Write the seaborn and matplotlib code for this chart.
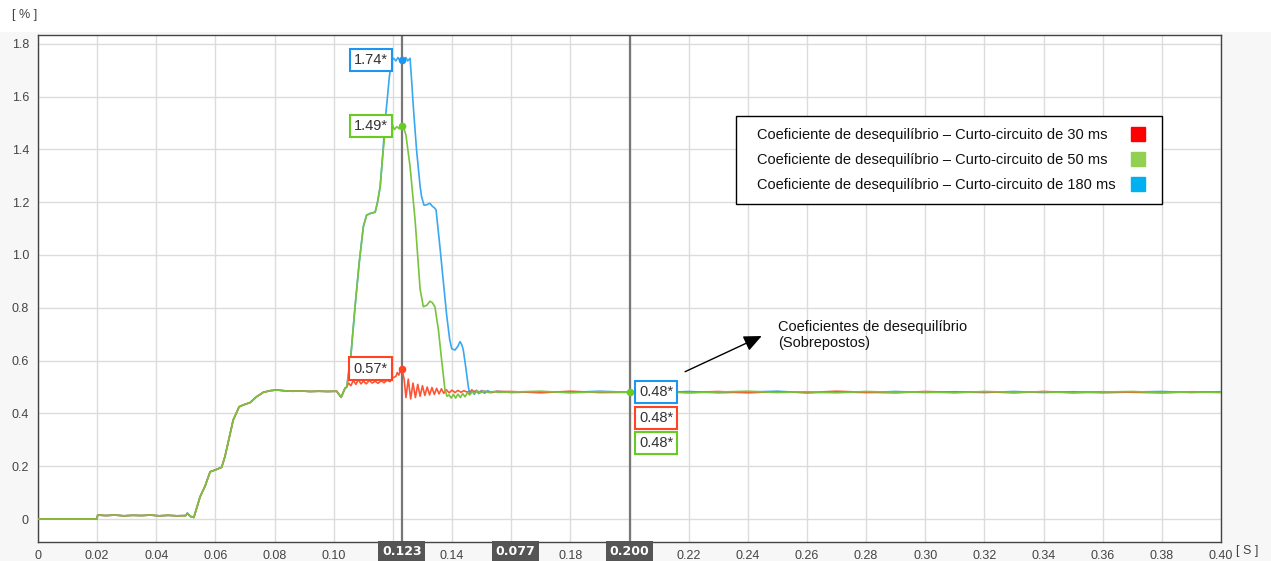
import matplotlib
matplotlib.use("Agg")
import matplotlib.pyplot as plt
import matplotlib.transforms as mtransforms
from matplotlib.lines import Line2D
from matplotlib.patches import Rectangle
from matplotlib.offsetbox import DrawingArea
import pandas as pd
import seaborn as sns

# ---- data -------------------------------------------------------------
# common pre-fault trace (all three recordings coincide here)
t_base = [0.0, 0.0199, 0.0202, 0.023, 0.026, 0.029, 0.032, 0.035, 0.038, 0.041,
          0.044, 0.047, 0.050, 0.0505, 0.0515, 0.0527, 0.0548, 0.0565, 0.0582, 0.0600,
          0.0621, 0.0632, 0.0645, 0.0660, 0.0680, 0.0694, 0.0717, 0.0739, 0.0762, 0.0785,
          0.0807, 0.0830, 0.0860, 0.0890, 0.0920, 0.0950, 0.0980, 0.1010, 0.1025, 0.1038]
v_base = [0.0, 0.0, 0.015, 0.013, 0.015, 0.012, 0.014, 0.013, 0.015, 0.012,
          0.014, 0.012, 0.013, 0.022, 0.010, 0.006, 0.084, 0.125, 0.179, 0.186,
          0.196, 0.236, 0.300, 0.375, 0.425, 0.432, 0.441, 0.463, 0.480, 0.486,
          0.489, 0.486, 0.484, 0.485, 0.483, 0.484, 0.483, 0.484, 0.461, 0.495]

# fault / recovery portion of each recording
t_30 = [0.1044, 0.1050, 0.1058, 0.1066, 0.1075, 0.1083, 0.1092, 0.1100, 0.1110, 0.1120,
        0.1130, 0.1140, 0.1150, 0.1160, 0.1170, 0.1180, 0.1190, 0.1200, 0.1210, 0.1215,
        0.1220, 0.1225, 0.1230, 0.1238, 0.1244, 0.1252, 0.1260, 0.1268, 0.1276, 0.1284,
        0.1292, 0.1300, 0.1308, 0.1316, 0.1324, 0.1332, 0.1340, 0.1348, 0.1356, 0.1364,
        0.1372, 0.1380, 0.1390, 0.1400, 0.1410, 0.1420, 0.1430, 0.1440, 0.1450, 0.1470,
        0.1490, 0.1510, 0.1530, 0.1550]
v_30 = [0.500, 0.515, 0.505, 0.525, 0.510, 0.528, 0.512, 0.522, 0.512, 0.525,
        0.515, 0.522, 0.514, 0.524, 0.516, 0.526, 0.520, 0.535, 0.540, 0.555,
        0.545, 0.560, 0.570, 0.530, 0.460, 0.530, 0.455, 0.515, 0.460, 0.510,
        0.465, 0.505, 0.468, 0.500, 0.470, 0.498, 0.472, 0.495, 0.474, 0.493,
        0.476, 0.490, 0.478, 0.488, 0.479, 0.487, 0.480, 0.486, 0.481, 0.485,
        0.482, 0.484, 0.479, 0.483]

t_50 = [0.1044, 0.1058, 0.1072, 0.1086, 0.1100, 0.1111, 0.1125, 0.1140, 0.1148, 0.1157,
        0.1165, 0.1173, 0.1185, 0.1196, 0.1205, 0.1213, 0.1222, 0.1230, 0.1237, 0.1244,
        0.1258, 0.1275, 0.1292, 0.1303, 0.1315, 0.1325, 0.1333, 0.1342, 0.1354, 0.1365,
        0.1376, 0.1383, 0.1390, 0.1397, 0.1405, 0.1412, 0.1420, 0.1428, 0.1436, 0.1444,
        0.1452, 0.1460, 0.1468, 0.1476, 0.1485, 0.1495, 0.1510, 0.1525, 0.1540, 0.1555]
v_50 = [0.500, 0.620, 0.804, 0.970, 1.107, 1.151, 1.158, 1.162, 1.200, 1.259,
        1.370, 1.461, 1.485, 1.499, 1.475, 1.486, 1.478, 1.490, 1.480, 1.455,
        1.335, 1.133, 0.870, 0.804, 0.810, 0.825, 0.820, 0.804, 0.716, 0.600,
        0.490, 0.465, 0.470, 0.458, 0.472, 0.458, 0.473, 0.460, 0.475, 0.463,
        0.478, 0.470, 0.482, 0.475, 0.485, 0.478, 0.484, 0.479, 0.483, 0.480]

t_180 = [0.1044, 0.1058, 0.1072, 0.1086, 0.1100, 0.1111, 0.1125, 0.1140, 0.1148, 0.1157,
         0.1165, 0.1173, 0.1180, 0.1188, 0.1196, 0.1203, 0.1210, 0.1217, 0.1223, 0.1230,
         0.1237, 0.1244, 0.1250, 0.1258, 0.1264, 0.1269, 0.1280, 0.1292, 0.1297, 0.1305,
         0.1314, 0.1325, 0.1333, 0.1342, 0.1346, 0.1359, 0.1370, 0.1382, 0.1392, 0.1399,
         0.1410, 0.1420, 0.1427, 0.1433, 0.1438, 0.1447, 0.1455, 0.1460, 0.1467, 0.1475,
         0.1483, 0.1490, 0.1500, 0.1510, 0.1520, 0.1535, 0.1550]
v_180 = [0.500, 0.620, 0.804, 0.970, 1.107, 1.151, 1.158, 1.162, 1.200, 1.259,
         1.370, 1.500, 1.580, 1.675, 1.739, 1.745, 1.735, 1.748, 1.738, 1.740,
         1.735, 1.748, 1.735, 1.745, 1.650, 1.562, 1.398, 1.260, 1.221, 1.189,
         1.190, 1.196, 1.185, 1.177, 1.170, 1.031, 0.905, 0.770, 0.680, 0.645,
         0.640, 0.655, 0.672, 0.660, 0.640, 0.570, 0.501, 0.475, 0.490, 0.472,
         0.488, 0.475, 0.487, 0.476, 0.486, 0.479, 0.484]

# post-fault steady state
t_flat = [0.16, 0.17, 0.18, 0.19, 0.20, 0.21, 0.22, 0.23, 0.24, 0.25, 0.26, 0.27, 0.28,
          0.29, 0.30, 0.31, 0.32, 0.33, 0.34, 0.35, 0.36, 0.37, 0.38, 0.39, 0.40]
flat_30 = [0.483, 0.478, 0.484, 0.479, 0.480, 0.484, 0.479, 0.483, 0.478, 0.482, 0.479, 0.484, 0.480,
           0.478, 0.483, 0.480, 0.482, 0.478, 0.483, 0.479, 0.482, 0.480, 0.478, 0.482, 0.480]
flat_50 = [0.481, 0.484, 0.478, 0.482, 0.480, 0.482, 0.478, 0.481, 0.484, 0.479, 0.482, 0.478, 0.483,
           0.480, 0.481, 0.478, 0.483, 0.480, 0.482, 0.478, 0.481, 0.483, 0.479, 0.481, 0.479]
flat_180 = [0.479, 0.482, 0.480, 0.484, 0.480, 0.479, 0.483, 0.478, 0.481, 0.484, 0.478, 0.481, 0.479,
            0.483, 0.479, 0.482, 0.479, 0.483, 0.479, 0.482, 0.478, 0.481, 0.483, 0.479, 0.482]

series_names = ["Coeficiente de desequilíbrio – Curto-circuito de 30 ms",
                "Coeficiente de desequilíbrio – Curto-circuito de 50 ms",
                "Coeficiente de desequilíbrio – Curto-circuito de 180 ms"]

# cursor readings
cursor_1 = 0.123
cursor_2 = 0.200
read_c1 = [0.57, 1.49, 1.74]   # 30, 50, 180 ms
read_c2 = [0.48, 0.48, 0.48]

x_ticks = [0.00, 0.02, 0.04, 0.06, 0.08, 0.10, 0.12, 0.14, 0.16, 0.18, 0.20,
           0.22, 0.24, 0.26, 0.28, 0.30, 0.32, 0.34, 0.36, 0.38, 0.40]
x_tick_labels = ["0", "0.02", "0.04", "0.06", "0.08", "0.10", "", "0.14", "", "0.18", "",
                 "0.22", "0.24", "0.26", "0.28", "0.30", "0.32", "0.34", "0.36", "0.38", "0.40"]
y_ticks = [0.0, 0.2, 0.4, 0.6, 0.8, 1.0, 1.2, 1.4, 1.6, 1.8]
y_tick_labels = ["0", "0.2", "0.4", "0.6", "0.8", "1.0", "1.2", "1.4", "1.6", "1.8"]

# ---- styling ----------------------------------------------------------
line_colors = ["#FF5535", "#78C43A", "#38A8F2"]
box_colors = ["#FF4422", "#66CC22", "#1E96F0"]
legend_colors = ["#FF0000", "#92D050", "#00B0F0"]

sns.set_theme(style="white")
plt.rcParams["font.family"] = ["Liberation Sans", "DejaVu Sans"]

fig = plt.figure(figsize=(12.71, 5.61), dpi=100)
fig.patch.set_facecolor("white")
fig.add_artist(Rectangle((0, 0), 1, 1 - 32 / 561, transform=fig.transFigure,
                         facecolor="#f7f7f7", edgecolor="none", zorder=-10))
ax = fig.add_axes([38 / 1271, 1 - 542 / 561, 1183 / 1271, 507 / 561])
ax.set_facecolor("white")

frames = []
for name, tt, vv, ff in zip(series_names, [t_30, t_50, t_180], [v_30, v_50, v_180],
                            [flat_30, flat_50, flat_180]):
    frames.append(pd.DataFrame({"t": t_base + tt + t_flat, "v": v_base + vv + ff, "serie": name}))
df = pd.concat(frames, ignore_index=True)

# draw order: 180 ms, 30 ms, 50 ms (50 ms on top)
for idx in [2, 0, 1]:
    sub = df[df["serie"] == series_names[idx]]
    sns.lineplot(data=sub, x="t", y="v", color=line_colors[idx], lw=1.2,
                 sort=False, estimator=None, ax=ax, legend=False, zorder=3)

ax.set_xlim(0, 0.40)
ax.set_ylim(-0.0871, 1.8333)
ax.set_xticks(x_ticks)
ax.set_xticklabels(x_tick_labels)
ax.set_yticks(y_ticks)
ax.set_yticklabels(y_tick_labels)
ax.set_xlabel("")
ax.set_ylabel("")
ax.grid(True, color="#dcdcdc", lw=1.0)
ax.set_axisbelow(True)
for sp in ax.spines.values():
    sp.set_visible(True)
    sp.set_color("#444444")
    sp.set_linewidth(1.0)
ax.tick_params(axis="both", direction="inout", length=5, width=1, color="#222222",
               labelsize=9, labelcolor="#444444")
ax.tick_params(axis="x", pad=3.5)
ax.tick_params(axis="y", pad=4)

# cursors
for c in [cursor_1, cursor_2]:
    ax.axvline(c, color="#777777", lw=1.6, zorder=2.5)

# cursor markers and readouts
for idx in range(3):
    ax.plot([cursor_1], [read_c1[idx]], "o", ms=5.5, color=box_colors[idx], mec="none", zorder=6)
    ax.annotate(f"{read_c1[idx]:.2f}*", xy=(cursor_1, read_c1[idx]), xytext=(-10.2, 0),
                textcoords="offset points", ha="right", va="center", fontsize=10.5,
                color="#333333", zorder=7,
                bbox=dict(boxstyle="square,pad=0.28", fc="white", ec=box_colors[idx], lw=1.5))
ax.plot([cursor_2], [read_c2[1]], "o", ms=5.5, color=box_colors[1], mec="none", zorder=6)
for k, idx in enumerate([2, 0, 1]):
    ax.annotate(f"{read_c2[idx]:.2f}*", xy=(cursor_2, read_c2[idx]), xytext=(7.0, -18.4 * k),
                textcoords="offset points", ha="left", va="center", fontsize=10.5,
                color="#333333", zorder=7,
                bbox=dict(boxstyle="square,pad=0.28", fc="white", ec=box_colors[idx], lw=1.5))

# cursor positions on the time axis
trans = mtransforms.blended_transform_factory(ax.transData, ax.transAxes)
for xpos, txt in [(cursor_1, f"{cursor_1:.3f}"),
                  ((cursor_1 + cursor_2) / 2, f"{cursor_2 - cursor_1:.3f}"),
                  (cursor_2, f"{cursor_2:.3f}")]:
    ax.text(xpos, -0.019, txt, transform=trans, ha="center", va="center",
            fontsize=9, fontweight="bold", color="white", family="DejaVu Sans",
            bbox=dict(boxstyle="square,pad=0.3", fc="#555555", ec="none"),
            clip_on=False, zorder=8)

# unit labels
ax.text(-0.022, 1.039, "[ % ]", transform=ax.transAxes, ha="left", va="center",
        fontsize=9, color="#444444")
ax.text(1.0125, -0.018, "[ S ]", transform=ax.transAxes, ha="left", va="center",
        fontsize=9, color="#444444")

# annotation
ax.annotate("", xy=(0.2447, 0.693), xytext=(0.2188, 0.558),
            arrowprops=dict(arrowstyle="-|>,head_length=0.9,head_width=0.4",
                            color="black", lw=1.0, mutation_scale=12, shrinkA=0, shrinkB=0))
ax.text(0.2502, 0.697, "Coeficientes de desequilíbrio\n(Sobrepostos)", ha="left",
        va="center", fontsize=10.5, color="#111111")

# legend: labels left, colour squares right
leg_fs = 10.5
handles = [Line2D([], [], marker="s", ls="none", markersize=10,
                  markerfacecolor=c, markeredgecolor=c) for c in legend_colors]
leg = ax.legend(handles, series_names, loc="upper left", bbox_to_anchor=(0.590, 0.840),
                borderaxespad=0, markerfirst=False, frameon=True, fancybox=False,
                edgecolor="black", framealpha=1, fontsize=leg_fs, handlelength=1.0,
                handletextpad=1.05, borderpad=0.8, labelspacing=0.77)
leg.get_frame().set_linewidth(1.0)
for t in leg.get_texts():
    t.set_color("#111111")

# keep labels left-aligned and the colour squares in one column
fig.canvas.draw()
renderer = fig.canvas.get_renderer()
widths = [t.get_window_extent(renderer).width for t in leg.get_texts()]
maxw = max(widths)
column = leg._legend_handle_box.get_children()[0]
for item, w in zip(column.get_children(), widths):
    text_box, handle_box = list(item._children)
    gap = leg.handletextpad * leg_fs + (maxw - w) * 72 / fig.dpi
    item.sep = 0
    item._children = [DrawingArea(6.6, 1), text_box, DrawingArea(gap, 1),
                      handle_box, DrawingArea(3.6, 1)]

fig.savefig("out.png", dpi=100, facecolor=fig.get_facecolor())
